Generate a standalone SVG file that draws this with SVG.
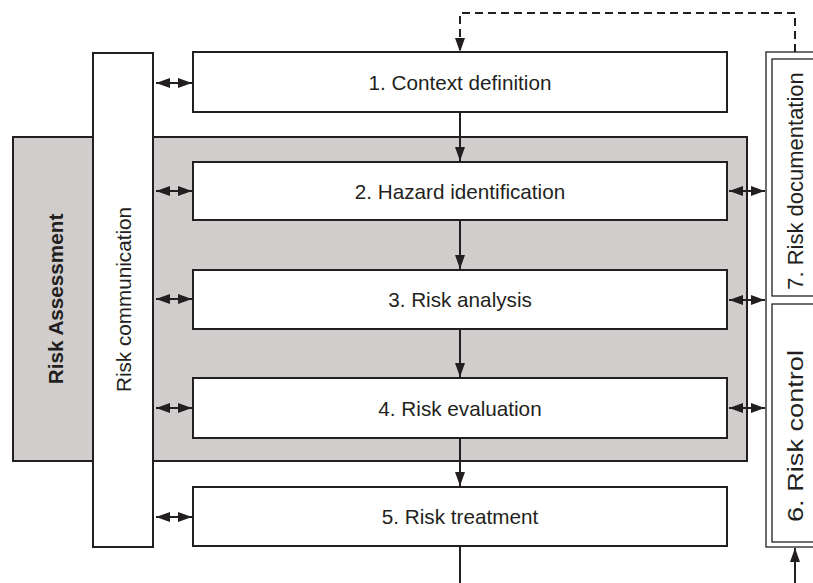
<svg xmlns="http://www.w3.org/2000/svg" width="813" height="583" viewBox="0 0 813 583">
  <style>
    .box { fill: #ffffff; stroke: #231f20; stroke-width: 2; }
    .panel { fill: #d1cdcd; stroke: #231f20; stroke-width: 2; }
    .thin { fill: #ffffff; stroke: #231f20; stroke-width: 1.3; }
    .lbl { font-family: "Liberation Sans", Arial, sans-serif; font-size: 20.7px; fill: #231f20; text-anchor: middle; }
    .side { font-size: 22px; }
    .bold { font-weight: bold; }
    .line { fill: none; stroke: #231f20; stroke-width: 2; }
    .dash { fill: none; stroke: #231f20; stroke-width: 2; stroke-dasharray: 8 5; }
  </style>
  <defs>
    <marker id="head2" viewBox="0 0 14 10" refX="14" refY="5" markerWidth="14" markerHeight="10" markerUnits="userSpaceOnUse" orient="auto-start-reverse">
      <path d="M0,0 L14,5 L0,10 Z" fill="#231f20"/>
    </marker>
  </defs>

  <!-- risk assessment band -->
  <g id="risk-assessment">
    <rect class="panel" x="13" y="137" width="734" height="324"/>
    <text class="lbl bold" transform="translate(63,299) rotate(-90)">Risk Assessment</text>
  </g>

  <!-- communication column -->
  <g id="risk-communication">
    <rect class="box" x="93" y="53" width="60" height="494"/>
    <text class="lbl" transform="translate(130.5,299.5) rotate(-90)">Risk communication</text>
  </g>

  <!-- process steps -->
  <g id="step1">
    <rect class="box" x="193" y="52" width="534" height="60"/>
    <text class="lbl" x="460" y="89.5">1. Context definition</text>
  </g>
  <g id="step2">
    <rect class="box" x="193" y="162" width="534" height="58"/>
    <text class="lbl" x="460" y="198.5">2. Hazard identification</text>
  </g>
  <g id="step3">
    <rect class="box" x="193" y="270" width="534" height="59"/>
    <text class="lbl" x="460" y="307">3. Risk analysis</text>
  </g>
  <g id="step4">
    <rect class="box" x="193" y="378" width="534" height="60"/>
    <text class="lbl" x="460" y="415.5">4. Risk evaluation</text>
  </g>
  <g id="step5">
    <rect class="box" x="193" y="487" width="534" height="59"/>
    <text class="lbl" x="460" y="524">5. Risk treatment</text>
  </g>

  <!-- documentation / control column -->
  <g id="side-frame">
    <rect class="thin" x="766" y="52" width="70" height="495"/>
  </g>
  <g id="step7">
    <rect class="thin" x="772" y="59" width="60" height="237"/>
    <text class="lbl side" transform="translate(803,181) rotate(-90)">7. Risk documentation</text>
  </g>
  <g id="step6">
    <rect class="thin" x="772" y="304" width="60" height="238"/>
    <text class="lbl side" transform="translate(803,436) rotate(-90)" textLength="172" lengthAdjust="spacingAndGlyphs">6. Risk control</text>
  </g>

  <!-- connectors -->
  <g id="connectors">
    <!-- main flow -->
    <line class="line" x1="460" y1="112" x2="460" y2="161" marker-end="url(#head2)"/>
    <line class="line" x1="460" y1="220" x2="460" y2="269" marker-end="url(#head2)"/>
    <line class="line" x1="460" y1="329" x2="460" y2="377" marker-end="url(#head2)"/>
    <line class="line" x1="460" y1="438" x2="460" y2="486" marker-end="url(#head2)"/>
    <line class="line" x1="460" y1="546" x2="460" y2="583"/>
    <!-- feedback from documentation -->
    <path class="dash" d="M795,52 V13 H460 V50"/>
    <path d="M455,38 L465,38 L460,52 Z" fill="#231f20"/>
    <!-- input to control -->
    <line class="line" x1="795" y1="583" x2="795" y2="548" marker-end="url(#head2)"/>
    <!-- communication links -->
    <line class="line" x1="156" y1="83" x2="192" y2="83" marker-start="url(#head2)" marker-end="url(#head2)"/>
    <line class="line" x1="156" y1="191" x2="192" y2="191" marker-start="url(#head2)" marker-end="url(#head2)"/>
    <line class="line" x1="156" y1="299" x2="192" y2="299" marker-start="url(#head2)" marker-end="url(#head2)"/>
    <line class="line" x1="156" y1="408" x2="192" y2="408" marker-start="url(#head2)" marker-end="url(#head2)"/>
    <line class="line" x1="156" y1="517" x2="192" y2="517" marker-start="url(#head2)" marker-end="url(#head2)"/>
    <!-- documentation / control links -->
    <line class="line" x1="729" y1="191" x2="765" y2="191" marker-start="url(#head2)" marker-end="url(#head2)"/>
    <line class="line" x1="729" y1="300" x2="765" y2="300" marker-start="url(#head2)" marker-end="url(#head2)"/>
    <line class="line" x1="729" y1="408" x2="765" y2="408" marker-start="url(#head2)" marker-end="url(#head2)"/>
  </g>
</svg>
